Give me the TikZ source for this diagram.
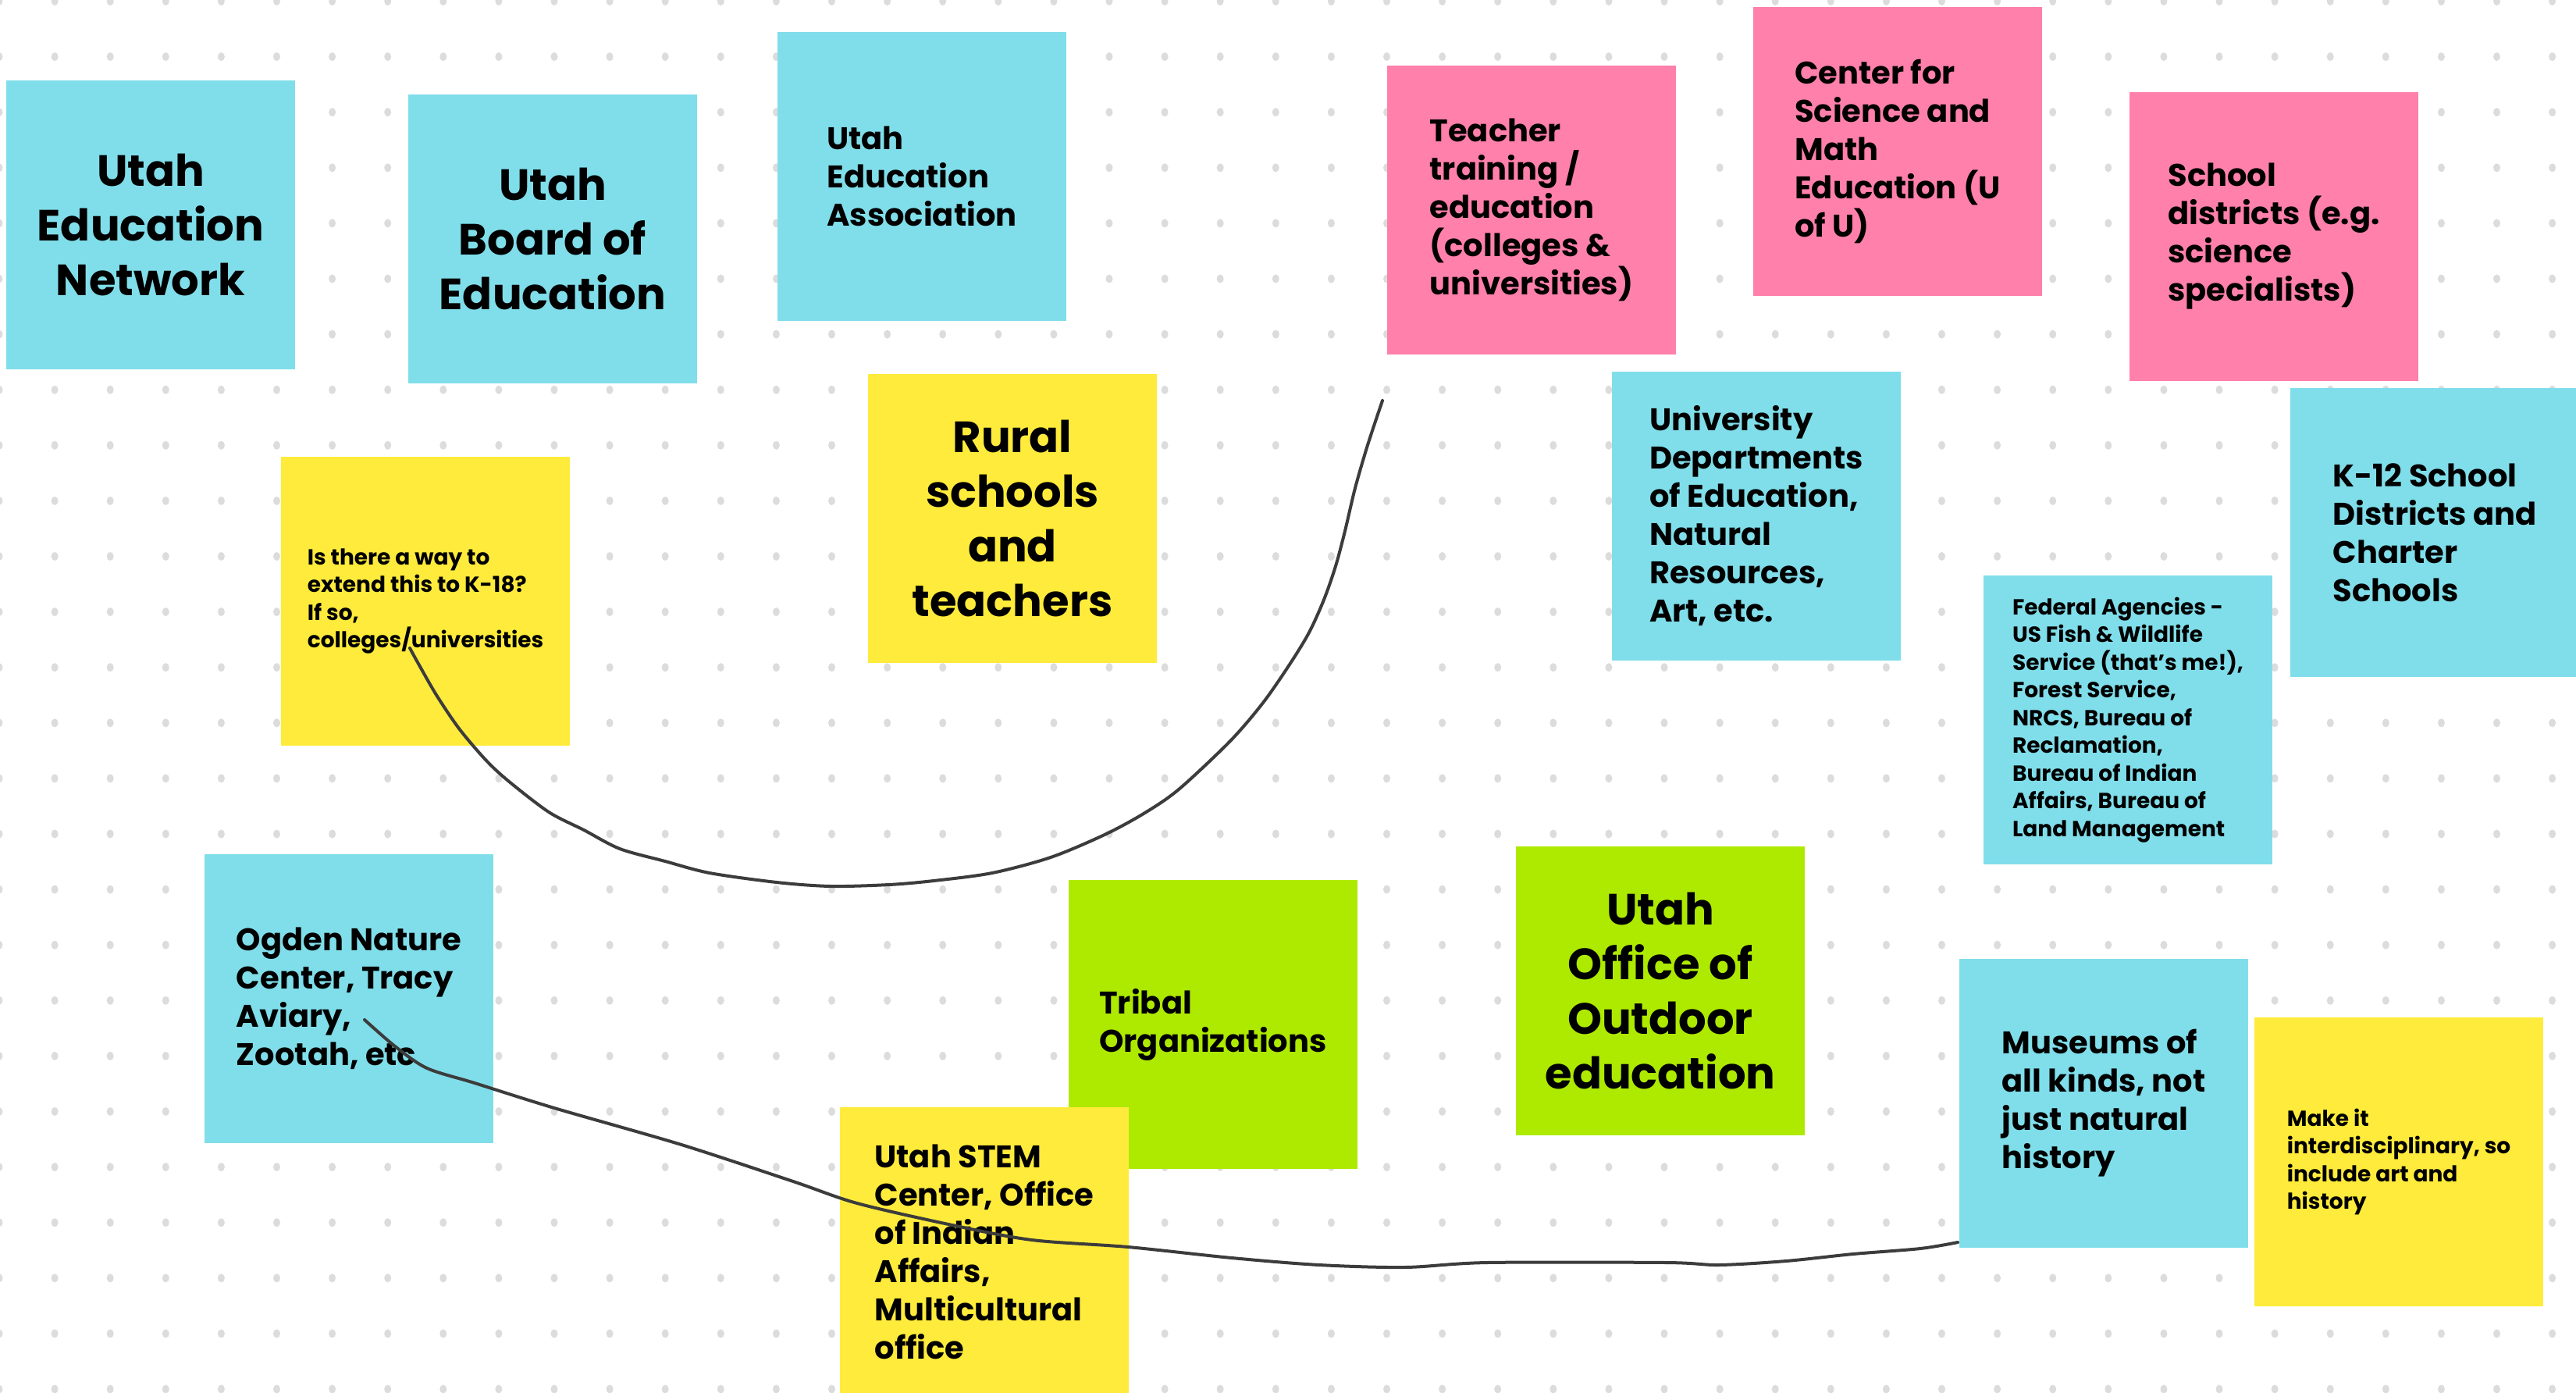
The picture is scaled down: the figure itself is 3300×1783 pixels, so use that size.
\documentclass[tikz,border=0pt]{standalone}
\usepackage{fontspec}
\setmainfont{Poppins}
\definecolor{nblue}{HTML}{80DEEA}
\definecolor{npink}{HTML}{FF80AB}
\definecolor{nyellow}{HTML}{FFEB3B}
\definecolor{ngreen}{HTML}{AEEA00}
\definecolor{dotc}{HTML}{DCDCDC}
\definecolor{pen}{HTML}{3C3C3C}
\begin{document}
\begin{tikzpicture}[x=1pt,y=-1pt,
  note/.style={anchor=north west, minimum width=370pt, minimum height=370pt, inner sep=0pt, outer sep=0pt},
  big/.style={note, align=center, font=\bfseries\fontsize{56pt}{70pt}\selectfont},
  mid/.style={note, align=left, font=\bfseries\fontsize{40pt}{49pt}\selectfont},
  small/.style={note, align=left, font=\bfseries\fontsize{28pt}{35.5pt}\selectfont},
  penline/.style={draw=pen, line width=4pt, line cap=round, line join=round}]
\useasboundingbox (0,0) rectangle (3300,1783);
\clip (0,0) rectangle (3300,1783);
\fill[white] (0,0) rectangle (3300,1783);
% dot grid
\foreach \i in {0,...,46}{
  \foreach \j in {0,...,25}{
    \fill[dotc] ({71.1*\i-1},{71.1*\j+1.5}) ellipse (4.5pt and 5.5pt);
  }
}
% notes
\node[big,  fill=nblue]   (uen)   at (8,103)    {Utah\\Education\\Network};
\node[big,  fill=nblue]   (uboe)  at (523,121)  {Utah\\Board of\\Education};
\node[mid,  fill=nblue]   (uea)   at (996,41)   {Utah\\Education\\Association};
\node[mid,  fill=npink]   (teach) at (1777,84)  {Teacher\\training /\\education\\(colleges \&\\universities)};
\node[mid,  fill=npink]   (csme)  at (2246,9)   {Center for\\Science and\\Math\\Education (U\\of U)};
\node[mid,  fill=npink]   (sdist) at (2728,118) {School\\districts (e.g.\\science\\specialists)};
\node[mid,  fill=nblue]   (udept) at (2065,476) {University\\Departments\\of Education,\\Natural\\Resources,\\Art, etc.};
\node[mid,  fill=nblue]   (k12)   at (2934,497) {K-12 School\\Districts and\\Charter\\Schools};
\node[small,fill=nblue]   (fed)   at (2541,737) {Federal Agencies -\\US Fish \& Wildlife\\Service (that's me!),\\Forest Service,\\NRCS, Bureau of\\Reclamation,\\Bureau of Indian\\Affairs, Bureau of\\Land Management};
\node[big,  fill=nyellow] (rural) at (1112,479) {Rural\\schools\\and\\teachers};
\node[small,fill=nyellow] (k18)   at (360,585)  {Is there a way to\\extend this to K-18?\\If so,\\colleges/universities};
\node[mid,  fill=nblue]   (ogden) at (262,1094) {Ogden Nature\\Center, Tracy\\Aviary,\\Zootah, etc};
\node[mid,  fill=ngreen]  (tribal) at (1369,1127) {Tribal\\Organizations};
\node[big,  fill=ngreen]  (outdoor) at (1942,1084) {Utah\\Office of\\Outdoor\\education};
\node[mid,  fill=nyellow] (stem)  at (1076,1418) {Utah STEM\\Center, Office\\of Indian\\Affairs,\\Multicultural\\office};
\node[mid,  fill=nblue]   (museum) at (2510,1228) {Museums of\\all kinds, not\\just natural\\history};
\node[small,fill=nyellow] (interd) at (2888,1303) {Make it\\interdisciplinary, so\\include art and\\history};
% pen strokes
\coordinate (p1a) at (1771,513);
\coordinate (p1b) at (525,830);
\coordinate (p2a) at (467,1306);
\coordinate (p2b) at (2508,1591);
\draw[penline] plot[smooth, tension=0.5] coordinates {(p1a) (1752,570) (1736,625) (1723,680) (1711,725) (1696,768) (1677,810) (1652,851) (1618,900) (1576,949) (1510,1011) (1465,1042) (1415,1069) (1346,1098) (1271,1118) (1196,1128) (1139,1133) (1064,1135) (995,1130) (909,1118) (852,1103) (794,1087) (748,1063) (703,1040) (651,1000) (622,973) (588,933) (559,890) (536,850) (p1b)};
\draw[penline] plot[smooth, tension=0.5] coordinates {(p2a) (506,1340) (547,1368) (608,1387) (710,1419) (873,1466) (1016,1513) (1098,1541) (1220,1569) (1322,1588) (1445,1597) (1578,1611) (1690,1620) (1800,1623) (1905,1617) (2135,1617) (2202,1620) (2288,1615) (2374,1606) (2460,1599) (p2b)};
\end{tikzpicture}
\end{document}
